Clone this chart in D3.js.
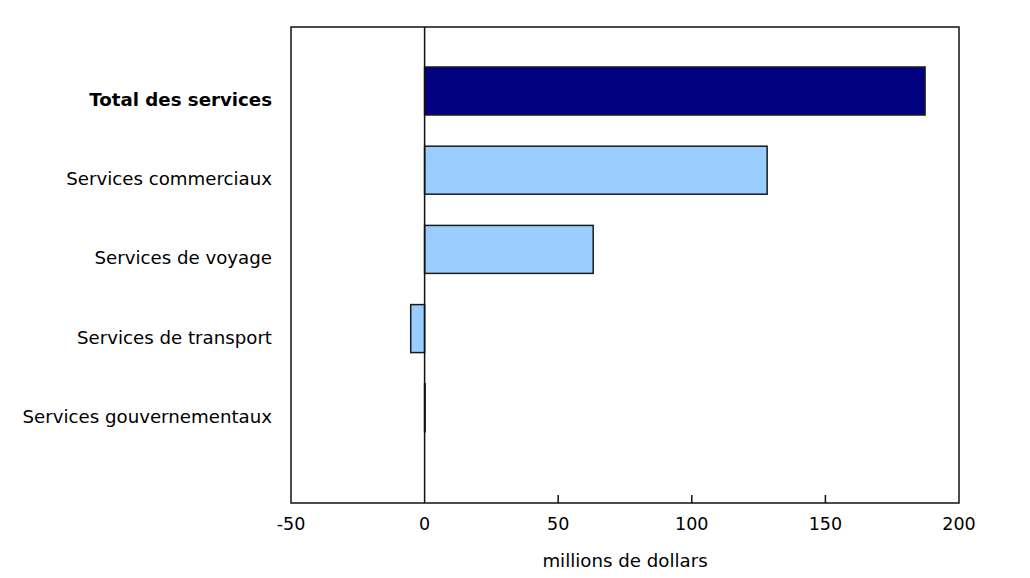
<!DOCTYPE html>
<html>
<head>
<meta charset="utf-8">
<script src="https://cdn.jsdelivr.net/npm/d3@7"></script>
<style>
  body { margin: 0; background: #fff; }
  text { font-family: "DejaVu Sans", Verdana, sans-serif; fill: #000; }
</style>
</head>
<body>
<div id="chart"></div>
<script>
var categories = ["Total des services", "Services commerciaux", "Services de voyage", "Services de transport", "Services gouvernementaux"];
var values = [187.3, 128.2, 63.1, -5.2, 0.2];
var tickValues = [-50, 0, 50, 100, 150, 200];
var axisTitle = "millions de dollars";

var width = 1030, height = 578;
var plotLeft = 291, plotRight = 959, plotTop = 27, plotBottom = 503;

var svg = d3.select("#chart")
    .append("svg")
    .attr("width", width)
    .attr("height", height);

var x = d3.scaleLinear().domain([-50, 200]).range([plotLeft, plotRight]);
var y = d3.scaleBand()
    .domain(categories)
    .range([51.4, 447.4])
    .paddingInner(0.394)
    .paddingOuter(0.197);

// plot frame
svg.append("rect")
    .attr("x", plotLeft).attr("y", plotTop)
    .attr("width", plotRight - plotLeft).attr("height", plotBottom - plotTop)
    .attr("fill", "none").attr("stroke", "#111").attr("stroke-width", 1.5);

// tick marks inside the bottom border
svg.selectAll(".tick")
    .data(tickValues.filter(function(d){ return d != -50 && d != 0 && d != 200; }))
    .enter()
  .append("line")
    .attr("x1", function(d){ return x(d); })
    .attr("x2", function(d){ return x(d); })
    .attr("y1", plotBottom - 8)
    .attr("y2", plotBottom)
    .attr("stroke", "#111").attr("stroke-width", 1.5);

// bars
svg.selectAll(".bar")
    .data(values)
    .enter()
  .append("rect")
    .attr("x", function(d){ return x(Math.min(0, d)); })
    .attr("y", function(d, i){ return y(categories[i]); })
    .attr("width", function(d){ return Math.abs(x(d) - x(0)); })
    .attr("height", y.bandwidth())
    .attr("fill", function(d, i){ return i == 0 ? "#000080" : "#99ccff"; })
    .attr("stroke", "#1a1a1a").attr("stroke-width", 1.5);

// zero line
svg.append("line")
    .attr("x1", x(0)).attr("x2", x(0))
    .attr("y1", plotTop).attr("y2", plotBottom)
    .attr("stroke", "#111").attr("stroke-width", 1.5);

// category labels
svg.selectAll(".cat")
    .data(categories)
    .enter()
  .append("text")
    .attr("x", 272)
    .attr("y", function(d){ return y(d) + y.bandwidth() / 2 + 10; })
    .attr("text-anchor", "end")
    .attr("dominant-baseline", "middle")
    .style("font-size", "18.2px")
    .style("font-weight", function(d, i){ return i == 0 ? "bold" : "normal"; })
    .text(function(d){ return d; });

// tick labels
svg.selectAll(".tl")
    .data(tickValues)
    .enter()
  .append("text")
    .attr("x", function(d){ return x(d); })
    .attr("y", 525)
    .attr("text-anchor", "middle")
    .attr("dominant-baseline", "middle")
    .style("font-size", "17.5px")
    .text(function(d){ return d; });

svg.append("text")
    .attr("x", (plotLeft + plotRight) / 2)
    .attr("y", 562)
    .attr("text-anchor", "middle")
    .attr("dominant-baseline", "middle")
    .style("font-size", "18.2px")
    .text(axisTitle);
</script>
</body>
</html>
